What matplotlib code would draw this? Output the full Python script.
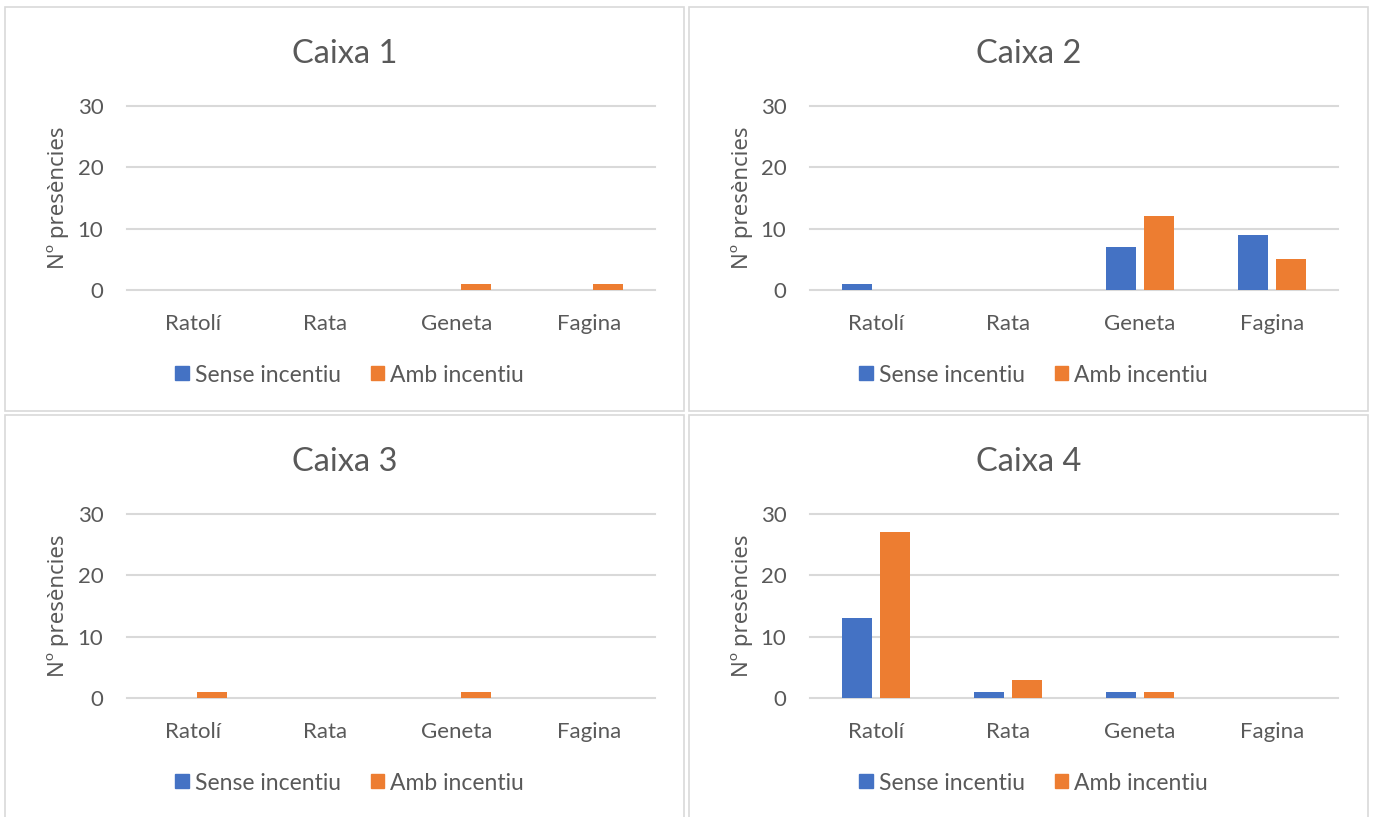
import matplotlib
matplotlib.use("Agg")
import matplotlib.pyplot as plt
from matplotlib.patches import Rectangle, Patch
import numpy as np

categories = ["Ratolí", "Rata", "Geneta", "Fagina"]
titles = ["Caixa 1", "Caixa 2", "Caixa 3", "Caixa 4"]
series_names = ["Sense incentiu", "Amb incentiu"]
sense = [
    [0, 0, 0, 0],
    [1, 0, 7, 9],
    [0, 0, 0, 0],
    [13, 1, 1, 0],
]
amb = [
    [0, 0, 1, 1],
    [0, 0, 12, 5],
    [1, 0, 1, 0],
    [27, 3, 1, 0],
]
yticks = [0, 10, 20, 30]
ylabel = "Nº presències"

BLUE = "#4472C4"
ORANGE = "#ED7D31"
TXT = "#595959"
GRID = "#D9D9D9"

W, H = 1375, 817
fig = plt.figure(figsize=(W / 100, H / 100), dpi=100)
fig.patch.set_facecolor("white")
plt.rcParams["font.family"] = ["Lato", "DejaVu Sans"]

panels = [(5, 7, 684, 411), (689, 7, 1368, 411), (5, 415, 684, 830), (689, 415, 1368, 830)]
axes_px = [(127, 106, 655, 290), (810, 106, 1338, 290), (127, 514, 655, 698), (810, 514, 1338, 698)]

def fx(x):
    return x / W

def fy(y):
    return 1 - y / H

for i in range(4):
    x0, y0, x1, y1 = panels[i]
    fig.patches.append(Rectangle((fx(x0), fy(y1)), fx(x1) - fx(x0), fy(y0) - fy(y1),
                                 transform=fig.transFigure, facecolor="none",
                                 edgecolor=GRID, lw=1.2, zorder=-5))
    l, t, r, b = axes_px[i]
    ax = fig.add_axes([fx(l), fy(b), fx(r) - fx(l), fy(t) - fy(b)])
    ax.set_facecolor("none")
    x = np.arange(len(categories))
    w = 0.227
    off = 0.144
    ax.bar(x - off, sense[i], width=w, color=BLUE, zorder=3, label=series_names[0])
    ax.bar(x + off, amb[i], width=w, color=ORANGE, zorder=3, label=series_names[1])
    ax.set_xlim(-0.5, len(categories) - 0.5)
    ax.set_ylim(0, 30)
    ax.set_yticks(yticks)
    ax.set_xticks(x)
    ax.set_xticklabels(categories)
    for s in ax.spines.values():
        s.set_visible(False)
    ax.tick_params(axis="both", length=0, colors=TXT, labelsize=16)
    ax.tick_params(axis="x", pad=17)
    ax.tick_params(axis="y", pad=17)
    ax.yaxis.grid(True, color=GRID, lw=1.5, zorder=0)
    ax.set_axisbelow(True)
    for gl in ax.get_ygridlines():
        gl.set_clip_on(False)
    fig.text(fx(x0 + 53), fy(y0 + 191), ylabel, rotation=90, ha="center", va="center",
             fontsize=16, color=TXT, family=["Noto Sans", "DejaVu Sans"])
    cx = (x0 + x1) / 2
    fig.text(fx(cx), fy(y0 + 47), titles[i], ha="center", va="center",
             fontsize=23.5, color=TXT)
    handles = [Patch(color=BLUE), Patch(color=ORANGE)]
    fig.legend(handles, series_names, loc="center", bbox_to_anchor=(fx(cx + 5), fy(y0 + 368)),
               ncol=2, frameon=False, fontsize=16.5, labelcolor=TXT,
               handlelength=0.6, handleheight=0.55, handletextpad=0.25,
               columnspacing=1.3)

fig.savefig("out.png", dpi=100, facecolor="white")
